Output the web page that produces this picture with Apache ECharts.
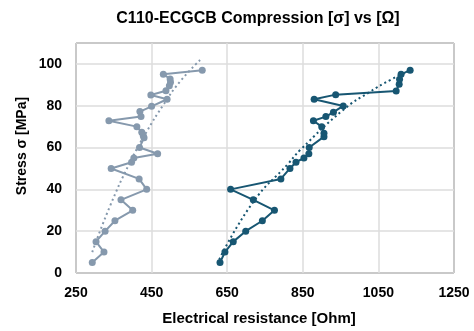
<!DOCTYPE html>
<html>
<head>
<meta charset="utf-8">
<script src="https://cdn.jsdelivr.net/npm/echarts@6/dist/echarts.min.js"></script>
<style>html,body{margin:0;padding:0;background:#fff;}#c{width:474px;height:331px;}</style>
</head>
<body>
<div id="c"></div>
<script>
// Grey series (resistance [Ohm], stress [MPa])
const greyRes    = [293,324,303,327,353,400,369,437,417,343,397,403,466,418,430,428,424,411,337,422,419,450,491,448,488,497,500,499,481,584];
const greyStress = [5,10,15,20,25,30,35,40,45,50,53,55,57,60,64.7,65.6,67.3,70,72.8,74.8,77.2,79.7,83.1,85.1,87.2,89.5,91.2,92.8,95.1,97];
// Blue series
const blueRes    = [631,644,666,699,743,775,719,659,792,816,832,853,866,867,906,906,900,878,911,931,957,880,937,1097,1105,1106,1110,1134];
const blueStress = [5,10,15,20,25,30,35,40,45,50,53,55,57,60,65.2,66.8,70,72.8,74.8,76.9,79.9,83.1,85.3,87.1,90.3,92.7,95,97];
// Trendline points (curved trendlines)
const greyTrendRes    = [293,340,393,437,481,525,583];
const greyTrendStress = [10,32,53,67.6,80.4,91.5,102.7];
const blueTrendRes    = [629,719,812,843,957,1028,1081,1130];
const blueTrendStress = [6.5,34,52.4,58.8,78,86.7,92.3,96.5];
const xTicks = [250,450,650,850,1050,1250];
const yTicks = [0,20,40,60,80,100];

const GREY = '#8699AD';
const BLUE = '#175672';
const zip = (a,b) => a.map((v,i)=>[v,b[i]]);
const font = '"Liberation Sans", Arial, sans-serif';

const chart = echarts.init(document.getElementById('c'), null, {renderer:'canvas'});
chart.setOption({
  animation:false,
  backgroundColor:'#fff',
  title:{
    text:'C110-ECGCB Compression [σ] vs [Ω]',
    left:253, top:6, textAlign:'center',
    textStyle:{fontFamily:font, fontWeight:'bold', fontSize:16, color:'#000'}
  },
  graphic:[
    {type:'text', x:259, y:319, style:{text:'Electrical resistance [Ohm]', fontFamily:font, fontWeight:'bold', fontSize:15, fill:'#000', align:'center', verticalAlign:'middle'}},
    {type:'text', x:22, y:146, rotation:Math.PI/2, style:{text:'Stress σ [MPa]', fontFamily:font, fontWeight:'bold', fontSize:14, fill:'#000', align:'center', verticalAlign:'middle'}}
  ],
  grid:{left:76, right:20, top:43, bottom:58, show:true, borderColor:'#222', borderWidth:1, containLabel:false},
  xAxis:{
    type:'value', min:xTicks[0], max:xTicks[xTicks.length-1], interval:200,
    axisLine:{show:false}, axisTick:{show:false},
    axisLabel:{fontFamily:font, fontWeight:'bold', fontSize:14, color:'#000', margin:13, formatter:v => String(v)},
    splitLine:{show:true, lineStyle:{color:'#dcdcdc', width:1.5}}
  },
  yAxis:{
    type:'value', min:0, max:110, interval:20,
    axisLine:{show:false}, axisTick:{show:false},
    axisLabel:{fontFamily:font, fontWeight:'bold', fontSize:14, color:'#000', margin:14, showMaxLabel:false,
      formatter:v => yTicks.includes(v) ? String(v) : ''},
    splitLine:{show:true, lineStyle:{color:'#dcdcdc', width:1.5}}
  },
  series:[
    {type:'line', data:zip(greyRes, greyStress), symbol:'circle', symbolSize:7,
     itemStyle:{color:GREY}, lineStyle:{color:GREY, width:2}, z:3},
    {type:'line', data:zip(greyTrendRes, greyTrendStress), symbol:'none', smooth:true,
     lineStyle:{color:GREY, width:2, type:[2,3]}, z:2},
    {type:'line', data:zip(blueRes, blueStress), symbol:'circle', symbolSize:7,
     itemStyle:{color:BLUE}, lineStyle:{color:BLUE, width:2}, z:3},
    {type:'line', data:zip(blueTrendRes, blueTrendStress), symbol:'none', smooth:true,
     lineStyle:{color:BLUE, width:2, type:[2,3]}, z:2}
  ]
});
</script>
</body>
</html>
